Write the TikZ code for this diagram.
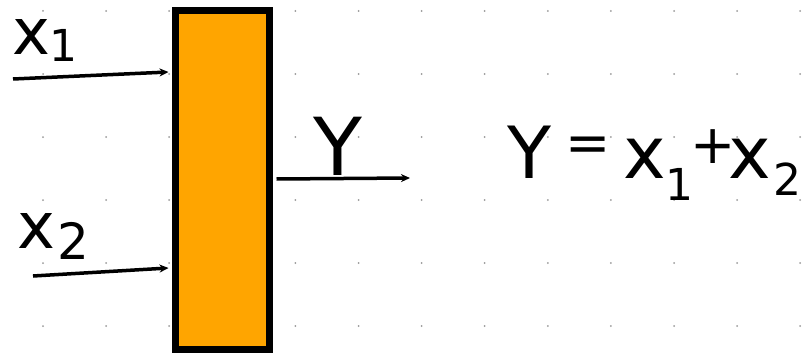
\documentclass[tikz,border=0pt]{standalone}
\usepackage{fontspec}
\newfontfamily\handfont{DejaVu Sans}
\usetikzlibrary{arrows.meta,calc}
\definecolor{boxorange}{HTML}{FFA500}
\begin{document}
\begin{tikzpicture}[x=1pt,y=-1pt,
  griddot/.style={fill=gray!80,draw=none},
  blockbox/.style={draw=black,fill=boxorange,line width=7pt,inner sep=0pt,minimum width=94pt,minimum height=339pt},
  arr/.style={line width=3.5pt,-{Stealth[length=9pt,width=8pt]}},
  hand/.style={font=\handfont\fontsize{64}{64}\selectfont,inner sep=0pt}]
\useasboundingbox[fill=white] (0,0) rectangle (810,353);
\foreach \i in {0,...,12}{
  \foreach \j in {0,...,5}{
    \fill[griddot] ({43+63.1*\i},{11+63*\j}) circle (1pt);
  }
}
\node[blockbox] (box) at (222.5,180) {};
\coordinate (in1) at (13,79);
\coordinate (in2) at (33,276);
\coordinate (out) at (410,178);
\draw[arr] (in1) -- ([shift={(-3.5,-108)}]box.west);
\draw[arr] (in2) -- ([shift={(-3.5,88)}]box.west);
\draw[arr] ([shift={(3.5,-1)}]box.east) -- (out);
\node[hand,anchor=base west] (lx1) at (12,55) {x\kern-1pt\raisebox{-7pt}{\fontsize{44}{44}\selectfont 1}};
\node[hand,anchor=base west] (lx2) at (17,248) {x\kern2pt\raisebox{-11pt}{\fontsize{50}{50}\selectfont 2}};
\node[hand,anchor=base,font=\handfont\fontsize{80}{80}\selectfont] (ly) at (338,175) {Y};
\node[hand,anchor=base west,font=\handfont\fontsize{72}{72}\selectfont] (eq) at (507,178) {Y\kern14.5pt\raisebox{17pt}{\fontsize{54}{54}\selectfont =}\kern13pt x\kern-1pt\raisebox{-22pt}{\fontsize{44}{44}\selectfont 1}\kern-3pt\raisebox{15pt}{\fontsize{54}{54}\selectfont +}\kern-7pt x\kern2pt\raisebox{-17pt}{\fontsize{44}{44}\selectfont 2}};
\end{tikzpicture}
\end{document}
